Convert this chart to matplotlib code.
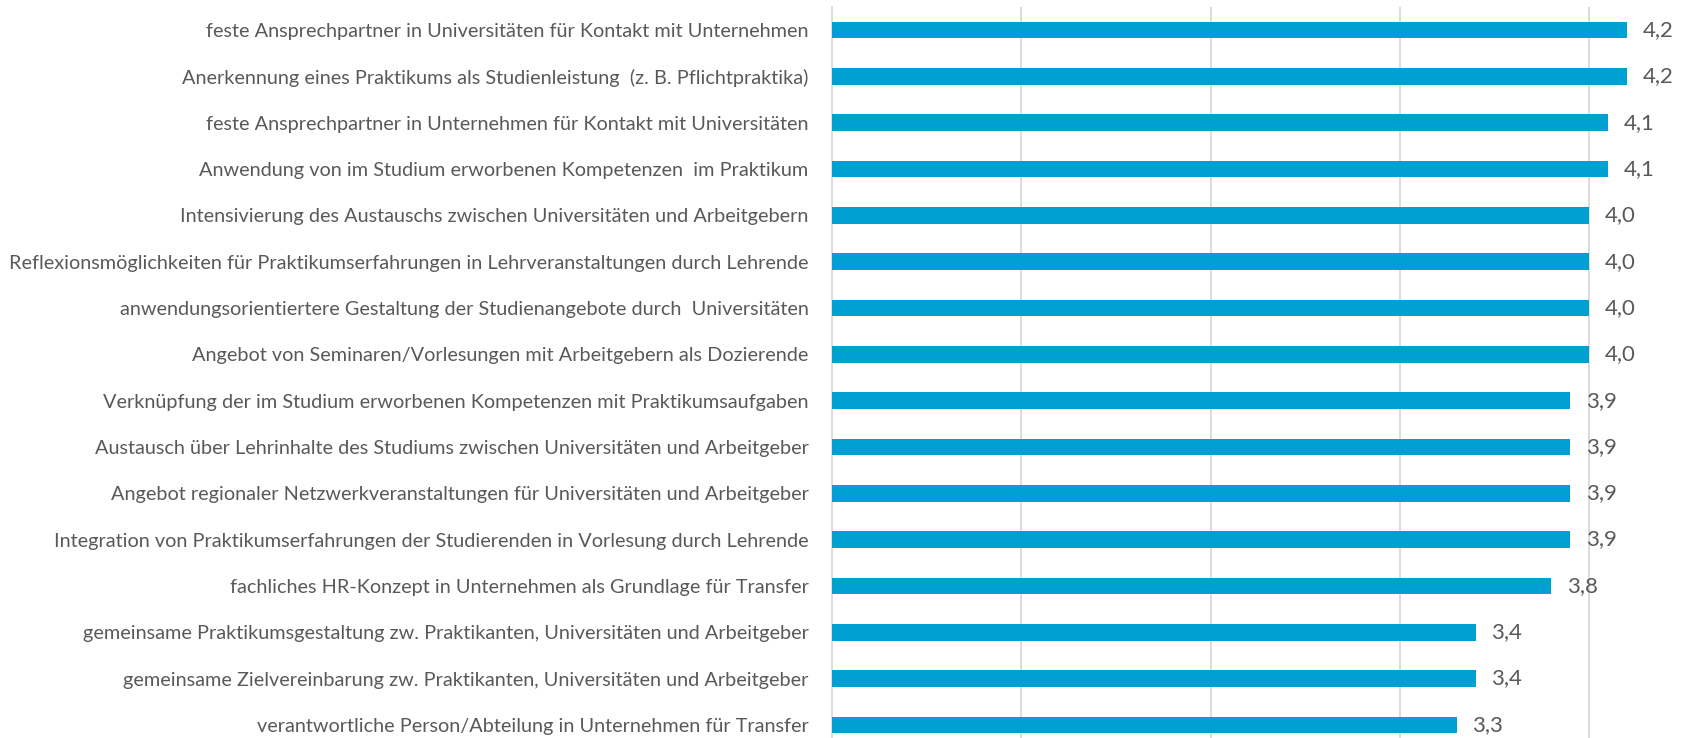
import matplotlib
matplotlib.use('Agg')
import matplotlib.pyplot as plt

labels = [
    'feste Ansprechpartner in Universitäten für Kontakt mit Unternehmen',
    'Anerkennung eines Praktikums als Studienleistung  (z. B. Pflichtpraktika)',
    'feste Ansprechpartner in Unternehmen für Kontakt mit Universitäten',
    'Anwendung von im Studium erworbenen Kompetenzen  im Praktikum',
    'Intensivierung des Austauschs zwischen Universitäten und Arbeitgebern',
    'Reflexionsmöglichkeiten für Praktikumserfahrungen in Lehrveranstaltungen durch Lehrende',
    'anwendungsorientiertere Gestaltung der Studienangebote durch  Universitäten',
    'Angebot von Seminaren/Vorlesungen mit Arbeitgebern als Dozierende',
    'Verknüpfung der im Studium erworbenen Kompetenzen mit Praktikumsaufgaben',
    'Austausch über Lehrinhalte des Studiums zwischen Universitäten und Arbeitgeber',
    'Angebot regionaler Netzwerkveranstaltungen für Universitäten und Arbeitgeber',
    'Integration von Praktikumserfahrungen der Studierenden in Vorlesung durch Lehrende',
    'fachliches HR-Konzept in Unternehmen als Grundlage für Transfer',
    'gemeinsame Praktikumsgestaltung zw. Praktikanten, Universitäten und Arbeitgeber',
    'gemeinsame Zielvereinbarung zw. Praktikanten, Universitäten und Arbeitgeber',
    'verantwortliche Person/Abteilung in Unternehmen für Transfer',
]
values = [4.2, 4.2, 4.1, 4.1, 4.0, 4.0, 4.0, 4.0, 3.9, 3.9, 3.9, 3.9, 3.8, 3.4, 3.4, 3.3]

plt.rcParams['font.family'] = ['Lato', 'DejaVu Sans']
grey = '#595959'

fig = plt.figure(figsize=(16.84, 7.38), dpi=100)
# axes runs a bit past the bottom edge, like the original
ax = fig.add_axes([832/1684, -10/738, 1 - 832/1684, 741/738])

y = list(range(len(labels)))
ax.barh(y, values, height=0.36, color='#00A0D2', zorder=3)
for yi, v in zip(y, values):
    ax.text(v + 0.08, yi, ('%.1f' % v).replace('.', ','), va='center', ha='left',
            fontsize=16, color=grey)

ax.set_xlim(0, 4.5)
ax.set_ylim(len(labels) - 0.5, -0.5)
ax.set_xticks([1, 2, 3, 4])
ax.set_xticklabels([])
ax.grid(axis='x', color='#d9d9d9', linewidth=1.3, zorder=0)
ax.set_yticks(y)
ax.set_yticklabels(labels, fontsize=14.3, color=grey)
ax.tick_params(axis='y', length=0, pad=17)
ax.tick_params(axis='x', length=0)
for s in ['top', 'right', 'bottom']:
    ax.spines[s].set_visible(False)
ax.spines['left'].set_color('#d9d9d9')
ax.spines['left'].set_linewidth(1.3)

fig.savefig('out.png', dpi=100)
